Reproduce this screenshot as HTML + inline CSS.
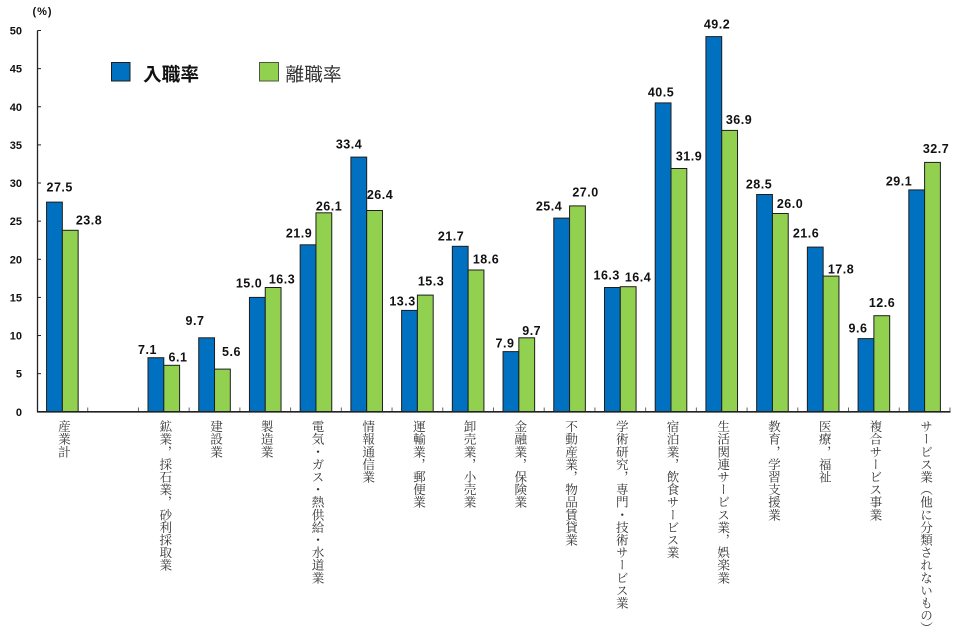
<!DOCTYPE html>
<html><head><meta charset="utf-8">
<style>
html,body{margin:0;padding:0;background:#fff;}
#wrap{position:relative;width:957px;height:634px;overflow:hidden;background:#fff;}
svg{position:absolute;left:0;top:0;}
.vl{position:absolute;top:420px;width:13px;writing-mode:vertical-rl;font-family:"Liberation Serif","Noto Serif CJK SC",serif;font-size:12.6px;line-height:13px;color:#333;white-space:nowrap;}
</style></head><body><div id="wrap">
<svg width="957" height="634" viewBox="0 0 957 634" xmlns="http://www.w3.org/2000/svg">
<g font-family="Liberation Sans, sans-serif" font-weight="bold" font-size="11" fill="#111" text-anchor="end">
<text x="22" y="415.8">0</text>
<text x="22" y="377.7">5</text>
<text x="22" y="339.5">10</text>
<text x="22" y="301.4">15</text>
<text x="22" y="263.3">20</text>
<text x="22" y="225.2">25</text>
<text x="22" y="187">30</text>
<text x="22" y="148.9">35</text>
<text x="22" y="110.8">40</text>
<text x="22" y="72.6">45</text>
<text x="22" y="34.5">50</text>
</g>
<text x="42.5" y="15" font-family="Liberation Sans, sans-serif" font-weight="bold" font-size="11" fill="#111" text-anchor="middle" letter-spacing="1">(%)</text>
<!-- bars -->
<g stroke="#1e1e1e" stroke-width="1">
<rect x="46.56" y="202.1" width="15.8" height="209.7" fill="#0070C0"/><rect x="62.36" y="230.3" width="15.8" height="181.5" fill="#92D050"/>
<rect x="148.0" y="357.7" width="15.8" height="54.1" fill="#0070C0"/><rect x="163.8" y="365.3" width="15.8" height="46.5" fill="#92D050"/>
<rect x="198.72" y="337.8" width="15.8" height="74.0" fill="#0070C0"/><rect x="214.52" y="369.1" width="15.8" height="42.7" fill="#92D050"/>
<rect x="249.44" y="297.4" width="15.8" height="114.4" fill="#0070C0"/><rect x="265.24" y="287.5" width="15.8" height="124.3" fill="#92D050"/>
<rect x="300.16" y="244.8" width="15.8" height="167.0" fill="#0070C0"/><rect x="315.96" y="212.8" width="15.8" height="199.0" fill="#92D050"/>
<rect x="350.88" y="157.1" width="15.8" height="254.7" fill="#0070C0"/><rect x="366.68" y="210.5" width="15.8" height="201.3" fill="#92D050"/>
<rect x="401.6" y="310.4" width="15.8" height="101.4" fill="#0070C0"/><rect x="417.4" y="295.1" width="15.8" height="116.7" fill="#92D050"/>
<rect x="452.32" y="246.3" width="15.8" height="165.5" fill="#0070C0"/><rect x="468.12" y="270.0" width="15.8" height="141.8" fill="#92D050"/>
<rect x="503.04" y="351.6" width="15.8" height="60.2" fill="#0070C0"/><rect x="518.84" y="337.8" width="15.8" height="74.0" fill="#92D050"/>
<rect x="553.76" y="218.1" width="15.8" height="193.7" fill="#0070C0"/><rect x="569.56" y="205.9" width="15.8" height="205.9" fill="#92D050"/>
<rect x="604.48" y="287.5" width="15.8" height="124.3" fill="#0070C0"/><rect x="620.28" y="286.7" width="15.8" height="125.1" fill="#92D050"/>
<rect x="655.2" y="102.9" width="15.8" height="308.9" fill="#0070C0"/><rect x="671.0" y="168.5" width="15.8" height="243.3" fill="#92D050"/>
<rect x="705.92" y="36.6" width="15.8" height="375.2" fill="#0070C0"/><rect x="721.72" y="130.4" width="15.8" height="281.4" fill="#92D050"/>
<rect x="756.64" y="194.5" width="15.8" height="217.3" fill="#0070C0"/><rect x="772.44" y="213.5" width="15.8" height="198.3" fill="#92D050"/>
<rect x="807.36" y="247.1" width="15.8" height="164.7" fill="#0070C0"/><rect x="823.16" y="276.1" width="15.8" height="135.7" fill="#92D050"/>
<rect x="858.08" y="338.6" width="15.8" height="73.2" fill="#0070C0"/><rect x="873.88" y="315.7" width="15.8" height="96.1" fill="#92D050"/>
<rect x="908.8" y="189.9" width="15.8" height="221.9" fill="#0070C0"/><rect x="924.6" y="162.4" width="15.8" height="249.4" fill="#92D050"/>
</g>
<!-- axes -->
<line x1="37.5" y1="30.5" x2="37.5" y2="412" stroke="#222" stroke-width="1.3"/>
<line x1="37" y1="411.8" x2="950.5" y2="411.8" stroke="#222" stroke-width="1.6"/>
<g stroke="#222" stroke-width="1">
<line x1="37.5" y1="373.67" x2="41" y2="373.67"/><line x1="37.5" y1="335.54" x2="41" y2="335.54"/>
<line x1="37.5" y1="297.41" x2="41" y2="297.41"/><line x1="37.5" y1="259.28" x2="41" y2="259.28"/>
<line x1="37.5" y1="221.15" x2="41" y2="221.15"/><line x1="37.5" y1="183.02" x2="41" y2="183.02"/>
<line x1="37.5" y1="144.89" x2="41" y2="144.89"/><line x1="37.5" y1="106.76" x2="41" y2="106.76"/>
<line x1="37.5" y1="68.63" x2="41" y2="68.63"/><line x1="37.5" y1="30.5" x2="41" y2="30.5"/>
</g>
<g stroke="#666" stroke-width="1">
<line x1="87.72" y1="411" x2="87.72" y2="407.5"/><line x1="138.44" y1="411" x2="138.44" y2="407.5"/>
<line x1="189.16" y1="411" x2="189.16" y2="407.5"/><line x1="239.88" y1="411" x2="239.88" y2="407.5"/>
<line x1="290.6" y1="411" x2="290.6" y2="407.5"/><line x1="341.32" y1="411" x2="341.32" y2="407.5"/>
<line x1="392.04" y1="411" x2="392.04" y2="407.5"/><line x1="442.76" y1="411" x2="442.76" y2="407.5"/>
<line x1="493.48" y1="411" x2="493.48" y2="407.5"/><line x1="544.2" y1="411" x2="544.2" y2="407.5"/>
<line x1="594.92" y1="411" x2="594.92" y2="407.5"/><line x1="645.64" y1="411" x2="645.64" y2="407.5"/>
<line x1="696.36" y1="411" x2="696.36" y2="407.5"/><line x1="747.08" y1="411" x2="747.08" y2="407.5"/>
<line x1="797.8" y1="411" x2="797.8" y2="407.5"/><line x1="848.52" y1="411" x2="848.52" y2="407.5"/>
<line x1="899.24" y1="411" x2="899.24" y2="407.5"/><line x1="949.96" y1="411" x2="949.96" y2="407.5"/>
</g>
<!-- value labels -->
<g font-family="Liberation Sans, sans-serif" font-weight="bold" font-size="12.5" fill="#111" text-anchor="middle" letter-spacing="0.5">
<text x="59.7" y="191.5">27.5</text><text x="89" y="224.5">23.8</text>
<text x="147.5" y="354">7.1</text><text x="178" y="361.5">6.1</text>
<text x="195" y="325">9.7</text><text x="231.5" y="356.2">5.6</text>
<text x="249" y="287.5">15.0</text><text x="282" y="283.5">16.3</text>
<text x="299" y="237.5">21.9</text><text x="329" y="210.5">26.1</text>
<text x="349" y="148.5">33.4</text><text x="380" y="198.9">26.4</text>
<text x="402.5" y="305.5">13.3</text><text x="431" y="285.5">15.3</text>
<text x="451" y="240.5">21.7</text><text x="486" y="263.5">18.6</text>
<text x="505" y="347.5">7.9</text><text x="531.7" y="335">9.7</text>
<text x="549" y="210.5">25.4</text><text x="585.5" y="196.5">27.0</text>
<text x="606.7" y="279.5">16.3</text><text x="638" y="281.5">16.4</text>
<text x="661" y="96.5">40.5</text><text x="689" y="160.5">31.9</text>
<text x="717" y="28.5">49.2</text><text x="739" y="124">36.9</text>
<text x="759" y="188.5">28.5</text><text x="790" y="208.2">26.0</text>
<text x="806" y="237.5">21.6</text><text x="841" y="273.5">17.8</text>
<text x="858" y="332.5">9.6</text><text x="882" y="307">12.6</text>
<text x="899" y="185.5">29.1</text><text x="936" y="153.2">32.7</text>
</g>
<!-- legend -->
<rect x="111.5" y="62.5" width="18.5" height="18.5" fill="#0070C0" stroke="#1e1e1e" stroke-width="1"/>
<text x="143" y="81" font-family="Liberation Sans, Noto Sans CJK JP, sans-serif" font-weight="bold" font-size="18.7" fill="#111">入職率</text>
<rect x="259.5" y="62.5" width="19" height="18.5" fill="#92D050" stroke="#4a5a3a" stroke-width="1"/>
<text x="285.5" y="81" font-family="Liberation Sans, Noto Sans CJK JP, sans-serif" font-size="18.7" fill="#333">離職率</text>
</svg>
<div class="vl" style="left:55.9px">産業計</div>
<div class="vl" style="left:157.3px">鉱業，採石業，砂利採取業</div>
<div class="vl" style="left:208px">建設業</div>
<div class="vl" style="left:258.7px">製造業</div>
<div class="vl" style="left:309.5px">電気・ガス・熱供給・水道業</div>
<div class="vl" style="left:360.2px">情報通信業</div>
<div class="vl" style="left:410.9px">運輸業，郵便業</div>
<div class="vl" style="left:461.6px">卸売業，小売業</div>
<div class="vl" style="left:512.3px">金融業，保険業</div>
<div class="vl" style="left:563.1px">不動産業，物品賃貸業</div>
<div class="vl" style="left:613.8px">学術研究，専門・技術サービス業</div>
<div class="vl" style="left:664.5px">宿泊業，飲食サービス業</div>
<div class="vl" style="left:715.2px">生活関連サービス業，娯楽業</div>
<div class="vl" style="left:765.9px">教育，学習支援業</div>
<div class="vl" style="left:816.7px">医療，福祉</div>
<div class="vl" style="left:867.4px">複合サービス事業</div>
<div class="vl" style="left:918.1px">サービス業（他に分類されないもの）</div>
</div></body></html>
